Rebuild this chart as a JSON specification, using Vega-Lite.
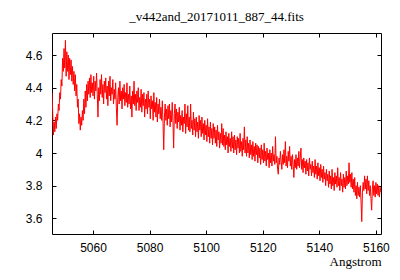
{
  "$schema": "https://vega.github.io/schema/vega-lite/v6.json",
  "width": 329,
  "height": 201,
  "autosize": {"type": "none"},
  "padding": {"left": 52, "top": 33, "right": 19, "bottom": 46},
  "background": "white",
  "title": {"text": "_v442and_20171011_887_44.fits", "font": "Liberation Serif", "fontSize": 13, "fontWeight": "normal", "color": "black", "offset": 9, "anchor": "middle"},
  "config": {"view": {"stroke": "black", "strokeWidth": 1}},
  "data": {"values": [
{"w":5045.5,"f":4.37},{"w":5045.75,"f":4.25},{"w":5046.0,"f":4.11},{"w":5046.25,"f":4.19},{"w":5046.5,"f":4.13},{"w":5046.75,"f":4.22},{"w":5047.0,"f":4.15},{"w":5047.25,"f":4.24},{"w":5047.5,"f":4.2},{"w":5047.75,"f":4.3},
{"w":5048.0,"f":4.26},{"w":5048.25,"f":4.37},{"w":5048.5,"f":4.33},{"w":5048.75,"f":4.45},{"w":5049.0,"f":4.41},{"w":5049.25,"f":4.58},{"w":5049.5,"f":4.5},{"w":5049.75,"f":4.64},{"w":5050.0,"f":4.52},{"w":5050.25,"f":4.69},
{"w":5050.5,"f":4.47},{"w":5050.75,"f":4.62},{"w":5051.0,"f":4.5},{"w":5051.25,"f":4.6},{"w":5051.5,"f":4.45},{"w":5051.75,"f":4.58},{"w":5052.0,"f":4.48},{"w":5052.25,"f":4.57},{"w":5052.5,"f":4.44},{"w":5052.75,"f":4.53},
{"w":5053.0,"f":4.42},{"w":5053.25,"f":4.5},{"w":5053.5,"f":4.38},{"w":5053.75,"f":4.48},{"w":5054.0,"f":4.35},{"w":5054.25,"f":4.42},{"w":5054.5,"f":4.28},{"w":5054.75,"f":4.33},{"w":5055.0,"f":4.18},{"w":5055.25,"f":4.24},
{"w":5055.5,"f":4.14},{"w":5055.75,"f":4.22},{"w":5056.0,"f":4.17},{"w":5056.25,"f":4.26},{"w":5056.5,"f":4.2},{"w":5056.75,"f":4.33},{"w":5057.0,"f":4.24},{"w":5057.25,"f":4.38},{"w":5057.5,"f":4.28},{"w":5057.75,"f":4.42},
{"w":5058.0,"f":4.32},{"w":5058.25,"f":4.44},{"w":5058.5,"f":4.36},{"w":5058.75,"f":4.46},{"w":5059.0,"f":4.34},{"w":5059.25,"f":4.48},{"w":5059.5,"f":4.37},{"w":5059.75,"f":4.43},{"w":5060.0,"f":4.35},{"w":5060.25,"f":4.47},
{"w":5060.5,"f":4.33},{"w":5060.75,"f":4.44},{"w":5061.0,"f":4.38},{"w":5061.25,"f":4.49},{"w":5061.5,"f":4.36},{"w":5061.75,"f":4.22},{"w":5062.0,"f":4.4},{"w":5062.25,"f":4.32},{"w":5062.5,"f":4.45},{"w":5062.75,"f":4.36},
{"w":5063.0,"f":4.48},{"w":5063.25,"f":4.34},{"w":5063.5,"f":4.42},{"w":5063.75,"f":4.3},{"w":5064.0,"f":4.44},{"w":5064.25,"f":4.37},{"w":5064.5,"f":4.46},{"w":5064.75,"f":4.33},{"w":5065.0,"f":4.41},{"w":5065.25,"f":4.29},
{"w":5065.5,"f":4.44},{"w":5065.75,"f":4.35},{"w":5066.0,"f":4.47},{"w":5066.25,"f":4.32},{"w":5066.5,"f":4.4},{"w":5066.75,"f":4.36},{"w":5067.0,"f":4.45},{"w":5067.25,"f":4.3},{"w":5067.5,"f":4.39},{"w":5067.75,"f":4.33},
{"w":5068.0,"f":4.43},{"w":5068.25,"f":4.28},{"w":5068.5,"f":4.17},{"w":5068.75,"f":4.34},{"w":5069.0,"f":4.4},{"w":5069.25,"f":4.3},{"w":5069.5,"f":4.44},{"w":5069.75,"f":4.32},{"w":5070.0,"f":4.38},{"w":5070.25,"f":4.27},
{"w":5070.5,"f":4.4},{"w":5070.75,"f":4.33},{"w":5071.0,"f":4.42},{"w":5071.25,"f":4.29},{"w":5071.5,"f":4.37},{"w":5071.75,"f":4.31},{"w":5072.0,"f":4.43},{"w":5072.25,"f":4.28},{"w":5072.5,"f":4.36},{"w":5072.75,"f":4.3},
{"w":5073.0,"f":4.41},{"w":5073.25,"f":4.27},{"w":5073.5,"f":4.35},{"w":5073.75,"f":4.22},{"w":5074.0,"f":4.38},{"w":5074.25,"f":4.3},{"w":5074.5,"f":4.44},{"w":5074.75,"f":4.29},{"w":5075.0,"f":4.36},{"w":5075.25,"f":4.26},
{"w":5075.5,"f":4.38},{"w":5075.75,"f":4.31},{"w":5076.0,"f":4.4},{"w":5076.25,"f":4.26},{"w":5076.5,"f":4.34},{"w":5076.75,"f":4.28},{"w":5077.0,"f":4.39},{"w":5077.25,"f":4.25},{"w":5077.5,"f":4.36},{"w":5077.75,"f":4.29},
{"w":5078.0,"f":4.37},{"w":5078.25,"f":4.22},{"w":5078.5,"f":4.33},{"w":5078.75,"f":4.27},{"w":5079.0,"f":4.36},{"w":5079.25,"f":4.24},{"w":5079.5,"f":4.38},{"w":5079.75,"f":4.28},{"w":5080.0,"f":4.33},{"w":5080.25,"f":4.21},
{"w":5080.5,"f":4.35},{"w":5080.75,"f":4.27},{"w":5081.0,"f":4.32},{"w":5081.25,"f":4.2},{"w":5081.5,"f":4.37},{"w":5081.75,"f":4.25},{"w":5082.0,"f":4.31},{"w":5082.25,"f":4.22},{"w":5082.5,"f":4.34},{"w":5082.75,"f":4.19},
{"w":5083.0,"f":4.3},{"w":5083.25,"f":4.24},{"w":5083.5,"f":4.33},{"w":5083.75,"f":4.21},{"w":5084.0,"f":4.28},{"w":5084.25,"f":4.2},{"w":5084.5,"f":4.32},{"w":5084.75,"f":4.18},{"w":5085.0,"f":4.02},{"w":5085.25,"f":4.22},
{"w":5085.5,"f":4.3},{"w":5085.75,"f":4.2},{"w":5086.0,"f":4.27},{"w":5086.25,"f":4.17},{"w":5086.5,"f":4.29},{"w":5086.75,"f":4.21},{"w":5087.0,"f":4.3},{"w":5087.25,"f":4.16},{"w":5087.5,"f":4.26},{"w":5087.75,"f":4.19},
{"w":5088.0,"f":4.31},{"w":5088.25,"f":4.2},{"w":5088.5,"f":4.03},{"w":5088.75,"f":4.24},{"w":5089.0,"f":4.3},{"w":5089.25,"f":4.18},{"w":5089.5,"f":4.27},{"w":5089.75,"f":4.15},{"w":5090.0,"f":4.25},{"w":5090.25,"f":4.19},
{"w":5090.5,"f":4.28},{"w":5090.75,"f":4.14},{"w":5091.0,"f":4.23},{"w":5091.25,"f":4.17},{"w":5091.5,"f":4.26},{"w":5091.75,"f":4.13},{"w":5092.0,"f":4.22},{"w":5092.25,"f":4.18},{"w":5092.5,"f":4.3},{"w":5092.75,"f":4.12},
{"w":5093.0,"f":4.24},{"w":5093.25,"f":4.16},{"w":5093.5,"f":4.29},{"w":5093.75,"f":4.14},{"w":5094.0,"f":4.22},{"w":5094.25,"f":4.13},{"w":5094.5,"f":4.3},{"w":5094.75,"f":4.15},{"w":5095.0,"f":4.2},{"w":5095.25,"f":4.11},
{"w":5095.5,"f":4.25},{"w":5095.75,"f":4.14},{"w":5096.0,"f":4.21},{"w":5096.25,"f":4.1},{"w":5096.5,"f":4.22},{"w":5096.75,"f":4.13},{"w":5097.0,"f":4.19},{"w":5097.25,"f":4.09},{"w":5097.5,"f":4.23},{"w":5097.75,"f":4.14},
{"w":5098.0,"f":4.2},{"w":5098.25,"f":4.1},{"w":5098.5,"f":4.22},{"w":5098.75,"f":4.12},{"w":5099.0,"f":4.18},{"w":5099.25,"f":4.08},{"w":5099.5,"f":4.2},{"w":5099.75,"f":4.11},{"w":5100.0,"f":4.17},{"w":5100.25,"f":4.07},
{"w":5100.5,"f":4.21},{"w":5100.75,"f":4.1},{"w":5101.0,"f":4.16},{"w":5101.25,"f":4.06},{"w":5101.5,"f":4.19},{"w":5101.75,"f":4.09},{"w":5102.0,"f":4.15},{"w":5102.25,"f":4.05},{"w":5102.5,"f":4.18},{"w":5102.75,"f":4.09},
{"w":5103.0,"f":4.16},{"w":5103.25,"f":4.06},{"w":5103.5,"f":4.14},{"w":5103.75,"f":4.04},{"w":5104.0,"f":4.17},{"w":5104.25,"f":4.08},{"w":5104.5,"f":4.13},{"w":5104.75,"f":4.03},{"w":5105.0,"f":4.12},{"w":5105.25,"f":4.06},
{"w":5105.5,"f":4.18},{"w":5105.75,"f":4.05},{"w":5106.0,"f":4.15},{"w":5106.25,"f":4.04},{"w":5106.5,"f":4.11},{"w":5106.75,"f":4.02},{"w":5107.0,"f":4.13},{"w":5107.25,"f":4.05},{"w":5107.5,"f":4.1},{"w":5107.75,"f":4.0},
{"w":5108.0,"f":4.12},{"w":5108.25,"f":4.04},{"w":5108.5,"f":4.09},{"w":5108.75,"f":4.01},{"w":5109.0,"f":4.13},{"w":5109.25,"f":4.03},{"w":5109.5,"f":4.1},{"w":5109.75,"f":4.0},{"w":5110.0,"f":4.11},{"w":5110.25,"f":4.02},
{"w":5110.5,"f":4.08},{"w":5110.75,"f":3.99},{"w":5111.0,"f":4.1},{"w":5111.25,"f":4.03},{"w":5111.5,"f":4.09},{"w":5111.75,"f":4.0},{"w":5112.0,"f":4.12},{"w":5112.25,"f":4.01},{"w":5112.5,"f":4.07},{"w":5112.75,"f":3.98},
{"w":5113.0,"f":4.09},{"w":5113.25,"f":4.02},{"w":5113.5,"f":4.16},{"w":5113.75,"f":4.0},{"w":5114.0,"f":4.08},{"w":5114.25,"f":3.98},{"w":5114.5,"f":4.1},{"w":5114.75,"f":4.0},{"w":5115.0,"f":4.06},{"w":5115.25,"f":3.97},
{"w":5115.5,"f":4.08},{"w":5115.75,"f":3.99},{"w":5116.0,"f":4.05},{"w":5116.25,"f":3.96},{"w":5116.5,"f":4.07},{"w":5116.75,"f":3.98},{"w":5117.0,"f":4.04},{"w":5117.25,"f":3.95},{"w":5117.5,"f":4.06},{"w":5117.75,"f":3.99},
{"w":5118.0,"f":4.05},{"w":5118.25,"f":3.94},{"w":5118.5,"f":4.04},{"w":5118.75,"f":3.97},{"w":5119.0,"f":4.03},{"w":5119.25,"f":3.93},{"w":5119.5,"f":4.05},{"w":5119.75,"f":3.96},{"w":5120.0,"f":4.02},{"w":5120.25,"f":3.94},
{"w":5120.5,"f":4.06},{"w":5120.75,"f":3.95},{"w":5121.0,"f":4.01},{"w":5121.25,"f":3.92},{"w":5121.5,"f":4.03},{"w":5121.75,"f":3.96},{"w":5122.0,"f":4.0},{"w":5122.25,"f":3.91},{"w":5122.5,"f":4.02},{"w":5122.75,"f":3.94},
{"w":5123.0,"f":4.0},{"w":5123.25,"f":3.92},{"w":5123.5,"f":4.04},{"w":5123.75,"f":3.95},{"w":5124.0,"f":3.99},{"w":5124.25,"f":3.93},{"w":5124.5,"f":4.1},{"w":5124.75,"f":3.94},{"w":5125.0,"f":3.98},{"w":5125.25,"f":3.9},
{"w":5125.5,"f":3.87},{"w":5125.75,"f":3.97},{"w":5126.0,"f":3.93},{"w":5126.25,"f":4.01},{"w":5126.5,"f":3.95},{"w":5126.75,"f":3.9},{"w":5127.0,"f":3.99},{"w":5127.25,"f":3.93},{"w":5127.5,"f":4.02},{"w":5127.75,"f":3.94},
{"w":5128.0,"f":4.07},{"w":5128.25,"f":3.92},{"w":5128.5,"f":3.98},{"w":5128.75,"f":3.91},{"w":5129.0,"f":4.01},{"w":5129.25,"f":3.95},{"w":5129.5,"f":4.04},{"w":5129.75,"f":3.92},{"w":5130.0,"f":3.98},{"w":5130.25,"f":3.9},
{"w":5130.5,"f":3.99},{"w":5130.75,"f":3.93},{"w":5131.0,"f":3.85},{"w":5131.25,"f":3.96},{"w":5131.5,"f":3.91},{"w":5131.75,"f":3.99},{"w":5132.0,"f":3.9},{"w":5132.25,"f":3.97},{"w":5132.5,"f":3.92},{"w":5132.75,"f":4.01},
{"w":5133.0,"f":3.91},{"w":5133.25,"f":3.97},{"w":5133.5,"f":4.03},{"w":5133.75,"f":3.9},{"w":5134.0,"f":3.96},{"w":5134.25,"f":3.88},{"w":5134.5,"f":3.97},{"w":5134.75,"f":3.91},{"w":5135.0,"f":3.95},{"w":5135.25,"f":3.87},
{"w":5135.5,"f":3.96},{"w":5135.75,"f":3.89},{"w":5136.0,"f":3.94},{"w":5136.25,"f":3.86},{"w":5136.5,"f":3.97},{"w":5136.75,"f":3.9},{"w":5137.0,"f":3.93},{"w":5137.25,"f":3.86},{"w":5137.5,"f":3.95},{"w":5137.75,"f":3.88},
{"w":5138.0,"f":3.92},{"w":5138.25,"f":3.85},{"w":5138.5,"f":3.96},{"w":5138.75,"f":3.87},{"w":5139.0,"f":3.92},{"w":5139.25,"f":3.84},{"w":5139.5,"f":3.94},{"w":5139.75,"f":3.86},{"w":5140.0,"f":3.91},{"w":5140.25,"f":3.83},
{"w":5140.5,"f":3.93},{"w":5140.75,"f":3.85},{"w":5141.0,"f":3.9},{"w":5141.25,"f":3.82},{"w":5141.5,"f":3.92},{"w":5141.75,"f":3.84},{"w":5142.0,"f":3.88},{"w":5142.25,"f":3.8},{"w":5142.5,"f":3.9},{"w":5142.75,"f":3.83},
{"w":5143.0,"f":3.87},{"w":5143.25,"f":3.79},{"w":5143.5,"f":3.89},{"w":5143.75,"f":3.81},{"w":5144.0,"f":3.86},{"w":5144.25,"f":3.78},{"w":5144.5,"f":3.9},{"w":5144.75,"f":3.8},{"w":5145.0,"f":3.85},{"w":5145.25,"f":3.77},
{"w":5145.5,"f":3.88},{"w":5145.75,"f":3.81},{"w":5146.0,"f":3.86},{"w":5146.25,"f":3.79},{"w":5146.5,"f":3.91},{"w":5146.75,"f":3.8},{"w":5147.0,"f":3.85},{"w":5147.25,"f":3.77},{"w":5147.5,"f":3.88},{"w":5147.75,"f":3.8},
{"w":5148.0,"f":3.84},{"w":5148.25,"f":3.76},{"w":5148.5,"f":3.87},{"w":5148.75,"f":3.79},{"w":5149.0,"f":3.85},{"w":5149.25,"f":3.78},{"w":5149.5,"f":3.89},{"w":5149.75,"f":3.8},{"w":5150.0,"f":3.86},{"w":5150.25,"f":3.81},
{"w":5150.5,"f":3.94},{"w":5150.75,"f":3.82},{"w":5151.0,"f":3.87},{"w":5151.25,"f":3.79},{"w":5151.5,"f":3.88},{"w":5151.75,"f":3.78},{"w":5152.0,"f":3.84},{"w":5152.25,"f":3.76},{"w":5152.5,"f":3.85},{"w":5152.75,"f":3.74},
{"w":5153.0,"f":3.8},{"w":5153.25,"f":3.72},{"w":5153.5,"f":3.82},{"w":5153.75,"f":3.74},{"w":5154.0,"f":3.79},{"w":5154.25,"f":3.73},{"w":5154.5,"f":3.8},{"w":5154.75,"f":3.7},{"w":5155.0,"f":3.58},{"w":5155.25,"f":3.76},
{"w":5155.5,"f":3.82},{"w":5155.75,"f":3.77},{"w":5156.0,"f":3.86},{"w":5156.25,"f":3.78},{"w":5156.5,"f":3.84},{"w":5156.75,"f":3.75},{"w":5157.0,"f":3.86},{"w":5157.25,"f":3.77},{"w":5157.5,"f":3.83},{"w":5157.75,"f":3.74},
{"w":5158.0,"f":3.8},{"w":5158.25,"f":3.72},{"w":5158.5,"f":3.65},{"w":5158.75,"f":3.78},{"w":5159.0,"f":3.83},{"w":5159.25,"f":3.74},{"w":5159.5,"f":3.8},{"w":5159.75,"f":3.73},{"w":5160.0,"f":3.82},{"w":5160.25,"f":3.75},
{"w":5160.5,"f":3.81},{"w":5160.75,"f":3.74},{"w":5161.0,"f":3.8},{"w":5161.25,"f":3.73},{"w":5161.5,"f":3.79},{"w":5161.75,"f":3.76}
  ]},
  "layer": [
    {
      "mark": {"type": "line", "color": "#ff0000", "strokeWidth": 1, "clip": true},
      "encoding": {
        "x": {"field": "w", "type": "quantitative",
          "scale": {"domain": [5045.5, 5161.8], "nice": false, "zero": false},
          "axis": {"orient": "bottom", "values": [5060, 5080, 5100, 5120, 5140, 5160], "format": "d", "grid": false, "domain": false,
            "tickSize": -4, "tickColor": "black", "labelPadding": 12, "labelFont": "Liberation Sans", "labelFontSize": 12, "labelColor": "black",
            "title": "Angstrom", "titleFont": "Liberation Serif", "titleFontSize": 13, "titleFontWeight": "normal", "titleColor": "black", "titleAnchor": "end", "titleAlign": "right", "titlePadding": 2}},
        "y": {"field": "f", "type": "quantitative",
          "scale": {"domain": [3.504, 4.735], "nice": false, "zero": false},
          "axis": {"orient": "left", "values": [3.6, 3.8, 4.0, 4.2, 4.4, 4.6], "format": "~g", "grid": false, "domain": false,
            "tickSize": -4, "tickColor": "black", "labelPadding": 14, "labelFont": "Liberation Sans", "labelFontSize": 12, "labelColor": "black", "title": null}}
      }
    },
    {
      "mark": {"type": "line", "opacity": 0},
      "encoding": {
        "x": {"field": "w", "type": "quantitative",
          "axis": {"orient": "top", "values": [5060, 5080, 5100, 5120, 5140, 5160], "labels": false, "grid": false, "domain": false, "tickSize": -4, "tickColor": "black", "title": null}},
        "y": {"field": "f", "type": "quantitative",
          "axis": {"orient": "right", "values": [3.6, 3.8, 4.0, 4.2, 4.4, 4.6], "labels": false, "grid": false, "domain": false, "tickSize": -4, "tickColor": "black", "title": null}}
      }
    }
  ],
  "resolve": {"axis": {"x": "independent", "y": "independent"}}
}
